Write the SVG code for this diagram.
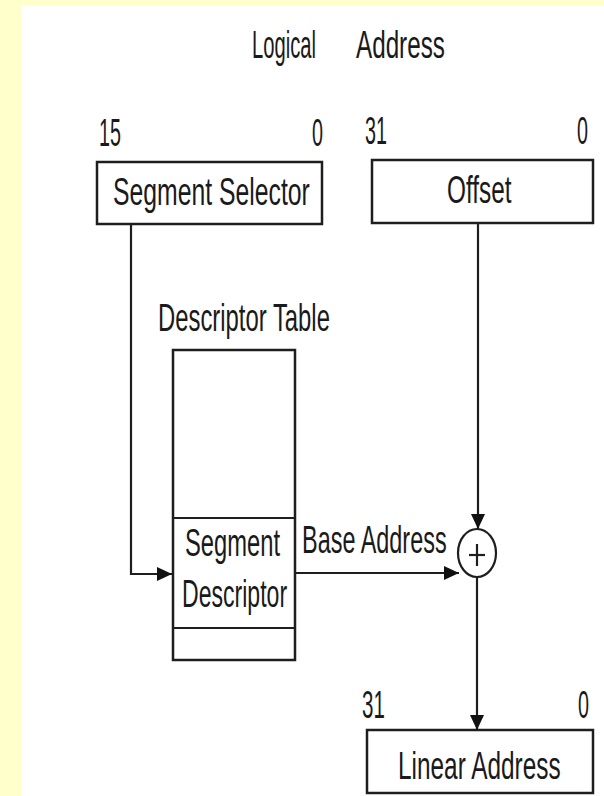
<svg xmlns="http://www.w3.org/2000/svg" width="604" height="796" viewBox="0 0 604 796">
<defs>
<style>
.t{font-family:"Liberation Sans",Arial,sans-serif;font-size:38px;fill:#1a1a1a;}
.box{fill:#fff;stroke:#1e1e1e;stroke-width:2.5;}
.ln{fill:none;stroke:#1e1e1e;stroke-width:2.2;}
</style>
<marker id="arr" markerUnits="userSpaceOnUse" markerWidth="16" markerHeight="14" refX="15" refY="7" orient="auto">
<path d="M0,0 L15,7 L0,14 z" fill="#111"/>
</marker>
</defs>
<rect x="0" y="0" width="604" height="796" fill="#ffffcc"/>
<rect x="21" y="5" width="583" height="791" fill="#fff"/>

<g id="title">
<text class="t" transform="translate(252,58) scale(0.532,1)">Logical</text>
<text class="t" transform="translate(356,58) scale(0.638,1)">Address</text>
</g>

<g id="segment-selector">
<text class="t" transform="translate(99,146) scale(0.52,1)">15</text>
<text class="t" transform="translate(312,146) scale(0.52,1)">0</text>
<rect class="box" x="97" y="162" width="225" height="62"/>
<text class="t" transform="translate(113,205) scale(0.652,1)">Segment Selector</text>
</g>

<g id="offset">
<text class="t" transform="translate(365,144) scale(0.52,1)">31</text>
<text class="t" transform="translate(577,144) scale(0.52,1)">0</text>
<rect class="box" x="372" y="160" width="221" height="63"/>
<text class="t" transform="translate(447,203) scale(0.641,1)">Offset</text>
</g>

<g id="descriptor-table">
<text class="t" transform="translate(158,331) scale(0.628,1)">Descriptor Table</text>
<rect class="box" x="173" y="350" width="122" height="310"/>
<line class="ln" x1="173" y1="518" x2="295" y2="518" stroke-width="2.5"/>
<line class="ln" x1="173" y1="628" x2="295" y2="628" stroke-width="2.5"/>
</g>

<g id="segment-descriptor">
<text class="t" transform="translate(185,556) scale(0.625,1)">Segment</text>
<text class="t" transform="translate(182,607) scale(0.607,1)">Descriptor</text>
</g>

<g id="adder">
<ellipse cx="477" cy="553" rx="19" ry="24" fill="#fff" stroke="#1e1e1e" stroke-width="2.2"/>
<line class="ln" x1="469" y1="555" x2="485" y2="555"/>
<line class="ln" x1="477" y1="544" x2="477" y2="566"/>
</g>

<g id="linear-address">
<text class="t" transform="translate(362,718) scale(0.54,1)">31</text>
<text class="t" transform="translate(578,718) scale(0.52,1)">0</text>
<rect class="box" x="367" y="730" width="226" height="63"/>
<text class="t" transform="translate(398,779) scale(0.642,1)">Linear Address</text>
</g>

<g id="connectors">
<path class="ln" d="M131,224 V574 H172" marker-end="url(#arr)"/>
<path class="ln" d="M478,223 V529" marker-end="url(#arr)"/>
<path class="ln" d="M295,573 H459" marker-end="url(#arr)"/>
<path class="ln" d="M477,577 V730" marker-end="url(#arr)"/>
<text class="t" transform="translate(302,553) scale(0.617,1)">Base Address</text>
</g>
</svg>
